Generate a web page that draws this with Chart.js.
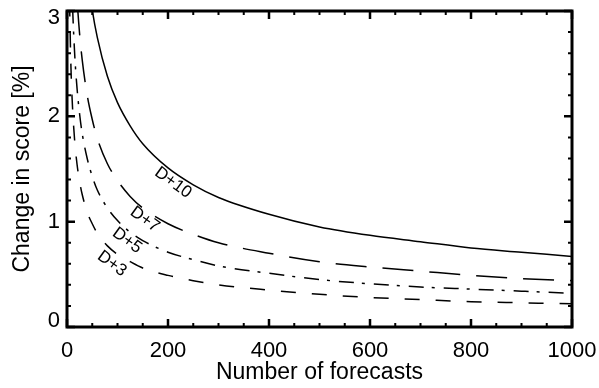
<!DOCTYPE html>
<html>
<head>
<meta charset="utf-8">
<script src="https://cdn.jsdelivr.net/npm/chart.js@4"></script>
<style>
  html, body { margin: 0; padding: 0; background: #fff; }
  #wrap { width: 599px; height: 388px; }
</style>
</head>
<body>
<div id="wrap"><canvas id="scoreChart" width="599" height="388"></canvas></div>
<script>
// values (null = curve is above the top of the plot there)
const forecasts = [5, 7.5, 10, 15, 20, 25, 30, 40, 50, 60, 80, 100, 125, 150, 200, 250, 300, 400, 500, 600, 700, 800, 900, 1000];
const d10 = [null, null, null, null, null, null, 3.89, 3.37, 3.01, 2.75, 2.38, 2.13, 1.91, 1.74, 1.51, 1.35, 1.23, 1.07, 0.95, 0.87, 0.81, 0.75, 0.71, 0.67];
const d7 = [null, null, 4.40, 3.59, 3.11, 2.78, 2.54, 2.20, 1.97, 1.79, 1.55, 1.39, 1.24, 1.13, 0.98, 0.88, 0.80, 0.70, 0.62, 0.57, 0.53, 0.49, 0.46, 0.44];
const d5 = [null, 3.69, 3.19, 2.61, 2.26, 2.02, 1.84, 1.60, 1.43, 1.30, 1.13, 1.01, 0.90, 0.82, 0.71, 0.64, 0.58, 0.51, 0.45, 0.41, 0.38, 0.36, 0.34, 0.32];
const d3 = [3.09, 2.52, 2.18, 1.78, 1.54, 1.38, 1.26, 1.09, 0.98, 0.89, 0.77, 0.69, 0.62, 0.56, 0.49, 0.44, 0.40, 0.35, 0.31, 0.28, 0.26, 0.24, 0.23, 0.22];
const seriesNames = ['D+10', 'D+7', 'D+5', 'D+3'];
const xTicks = [0, 200, 400, 600, 800, 1000];
const yTicks = [0, 1, 2, 3];

const FONT = '"Liberation Sans", Arial, Helvetica, sans-serif';

function toPoints(vals) {
  return forecasts.map((n, i) => ({ x: n, y: vals[i] }));
}

function lineSet(label, vals, dash) {
  return {
    label: label,
    data: toPoints(vals),
    borderColor: '#000',
    borderWidth: 1.5,
    borderDash: dash,
    pointRadius: 0,
    fill: false,
    cubicInterpolationMode: 'monotone'
  };
}

// frame, inward ticks (major + minor) on all four sides, curve labels
const framePlugin = {
  id: 'frame',
  afterDatasetsDraw(chart) {
    const ctx = chart.ctx;
    const a = chart.chartArea;
    const xs = chart.scales.x, ys = chart.scales.y;
    ctx.save();
    ctx.strokeStyle = '#000';

    // minor ticks
    ctx.lineWidth = 2;
    for (let v = 50; v < 1000; v += 50) {
      if (v % 200 === 0) continue;
      const px = xs.getPixelForValue(v);
      ctx.beginPath();
      ctx.moveTo(px, a.bottom); ctx.lineTo(px, a.bottom - 4);
      ctx.moveTo(px, a.top); ctx.lineTo(px, a.top + 4);
      ctx.stroke();
    }
    for (let v = 0.2; v < 3; v += 0.2) {
      if (Math.abs(v - Math.round(v)) < 0.01) continue;
      const py = ys.getPixelForValue(v);
      ctx.beginPath();
      ctx.moveTo(a.left, py); ctx.lineTo(a.left + 4, py);
      ctx.moveTo(a.right, py); ctx.lineTo(a.right - 4, py);
      ctx.stroke();
    }
    // major ticks
    ctx.lineWidth = 2.5;
    xTicks.forEach(v => {
      const px = xs.getPixelForValue(v);
      ctx.beginPath();
      ctx.moveTo(px, a.bottom); ctx.lineTo(px, a.bottom - 8);
      ctx.moveTo(px, a.top); ctx.lineTo(px, a.top + 8);
      ctx.stroke();
    });
    yTicks.forEach(v => {
      const py = ys.getPixelForValue(v);
      ctx.beginPath();
      ctx.moveTo(a.left, py); ctx.lineTo(a.left + 8, py);
      ctx.moveTo(a.right, py); ctx.lineTo(a.right - 8, py);
      ctx.stroke();
    });

    // box
    ctx.lineWidth = 3;
    ctx.strokeRect(a.left, a.top, a.right - a.left, a.bottom - a.top);

    // labels along the curves
    const spots = [[210, 1.37], [154, 1.02], [119, 0.82], [89, 0.60]];
    ctx.fillStyle = '#000';
    ctx.font = '17px ' + FONT;
    ctx.textAlign = 'center';
    ctx.textBaseline = 'middle';
    seriesNames.forEach((name, i) => {
      const px = xs.getPixelForValue(spots[i][0]);
      const py = ys.getPixelForValue(spots[i][1]);
      ctx.save();
      ctx.translate(px, py);
      ctx.rotate(36 * Math.PI / 180);
      ctx.fillText(name, 0, 0);
      ctx.restore();
    });
    ctx.restore();
  }
};

new Chart(document.getElementById('scoreChart'), {
  type: 'line',
  data: {
    datasets: [
      lineSet('D+10', d10, []),
      lineSet('D+7', d7, [31, 16]),
      lineSet('D+5', d5, [15, 8, 3, 9]),
      lineSet('D+3', d3, [15, 16])
    ]
  },
  options: {
    responsive: false,
    animation: false,
    devicePixelRatio: 1,
    layout: { padding: { top: 11, right: 27, left: 0, bottom: 0 } },
    plugins: {
      legend: { display: false },
      tooltip: { enabled: false }
    },
    scales: {
      x: {
        type: 'linear',
        min: 0,
        max: 1000,
        afterFit: s => { s.height = 61; s.paddingLeft = 0; s.paddingRight = 0; },
        afterBuildTicks: s => { s.ticks = xTicks.map(v => ({ value: v })); },
        grid: { display: false, drawTicks: false },
        border: { display: false },
        ticks: { color: '#000', font: { family: FONT, size: 22 }, padding: 11, maxRotation: 0, callback: v => String(v) },
        title: { display: true, text: 'Number of forecasts', color: '#000', font: { family: FONT, size: 23 }, padding: { top: 0, bottom: 2 } }
      },
      y: {
        type: 'linear',
        min: 0,
        max: 3,
        afterFit: s => { s.width = 67; s.paddingTop = 0; s.paddingBottom = 0; },
        // end labels sit just inside the frame, like the original plot
        afterBuildTicks: s => {
          s.ticks = yTicks.map(v => ({ value: v === 0 ? 0.06 : v === 3 ? 2.93 : v }));
        },
        grid: { display: false, drawTicks: false },
        border: { display: false },
        ticks: { color: '#000', font: { family: FONT, size: 22 }, padding: 7, callback: v => String(Math.round(v)) },
        title: { display: true, text: 'Change in score [%]', color: '#000', font: { family: FONT, size: 23 }, padding: { top: 9, bottom: 4 } }
      }
    }
  },
  plugins: [framePlugin]
});
</script>
</body>
</html>
